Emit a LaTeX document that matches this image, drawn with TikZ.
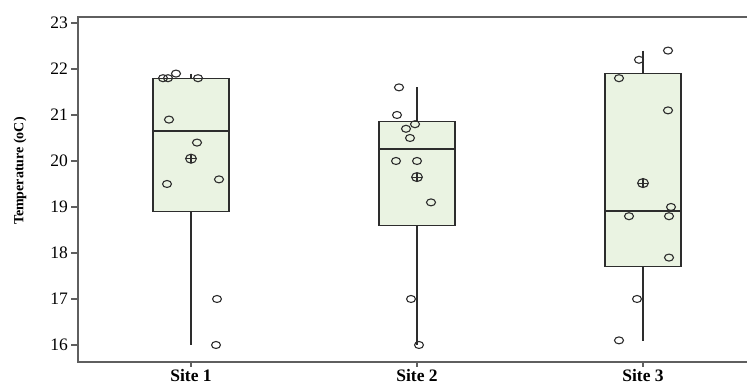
\documentclass[tikz,border=0pt]{standalone}
\usepackage{fontspec}
\setmainfont{Liberation Serif}
\usetikzlibrary{positioning}

\definecolor{boxgreen}{RGB}{234,243,226}
\definecolor{inkgray}{RGB}{45,45,45}
\definecolor{spinegray}{RGB}{95,95,95}

\begin{document}
\begin{tikzpicture}[x=1pt, y=46pt,
		spine/.style={draw=spinegray, line width=1.6pt},
		boxplot/.style={draw=inkgray, fill=boxgreen, line width=1.2pt},
		whisk/.style={draw=inkgray, line width=1.3pt},
		obs/.style={draw=inkgray, line width=1.1pt},
		ticklab/.style={anchor=east, inner sep=0pt, font=\fontsize{17.5}{17.5}\selectfont},
		sitelab/.style={inner sep=0pt, font=\fontsize{17.5}{17.5}\selectfont\bfseries}]
	\useasboundingbox (0,15.087) rectangle (747,23.5);
	% frame
	\draw[spine] (747,23.13) -- (78,23.13) -- (78,15.63) -- (747,15.63);
	\foreach \v in {16,...,23}
		{
		\draw[spine, line width=1.2pt] (71,\v) -- (78,\v);
		\node[ticklab] (t\v) at (68,\v) {\v};
		}
	\node[rotate=90, inner sep=0pt, font=\fontsize{14}{14}\selectfont\bfseries] (ylab) at (20,19.78) {Temperature (oC)};
	% boxes
	\foreach \x/\lo/\me/\hi/\wlo/\whi/\name [count=\i] in
		{191/18.9/20.65/21.8/16/21.9/Site 1,
		 417/18.59/20.26/20.85/16/21.6/Site 2,
		 643/17.7/18.91/21.91/16.09/22.4/Site 3}
		{
		\draw[boxplot] (\x-38,\lo) rectangle (\x+38,\hi);
		\draw[whisk] (\x-38,\me) -- (\x+38,\me);
		\coordinate (w\i lo) at (\x,\wlo);
		\coordinate (w\i hi) at (\x,\whi);
		\draw[whisk] (w\i lo) -- (\x,\lo);
		\draw[whisk] (w\i hi) -- (\x,\hi);
		\draw[spine, line width=1.2pt] (\x,15.63) -- (\x,15.52);
		\node[sitelab] (site\i) at (\x,15.33) {\name};
		}
	% observations
	\foreach \x/\v in {163/21.8, 168/21.8, 176/21.9, 198/21.8, 169/20.9, 197/20.4,
			167/19.5, 219/19.6, 217/17, 216/16,
			399/21.6, 397/21.0, 406/20.7, 415/20.8, 410/20.5, 396/20.0, 417/20.0,
			431/19.1, 411/17.0, 419/16.0,
			668/22.4, 639/22.2, 619/21.8, 668/21.1, 671/19.0, 629/18.8, 669/18.8,
			669/17.9, 637/17.0, 619/16.1}
		\draw[obs] (\x,\v) ellipse [x radius=4.5pt, y radius=3.5pt];
	% means
	\foreach \x/\v in {191/20.05, 417/19.65, 643/19.52}
		{
		\draw[obs] (\x,\v) ellipse [x radius=5.4pt, y radius=4.5pt];
		\draw[obs] ([xshift=-5.4pt]\x,\v) -- ([xshift=5.4pt]\x,\v);
		\draw[obs] ([yshift=-4.5pt]\x,\v) -- ([yshift=4.5pt]\x,\v);
		}
\end{tikzpicture}
\end{document}
